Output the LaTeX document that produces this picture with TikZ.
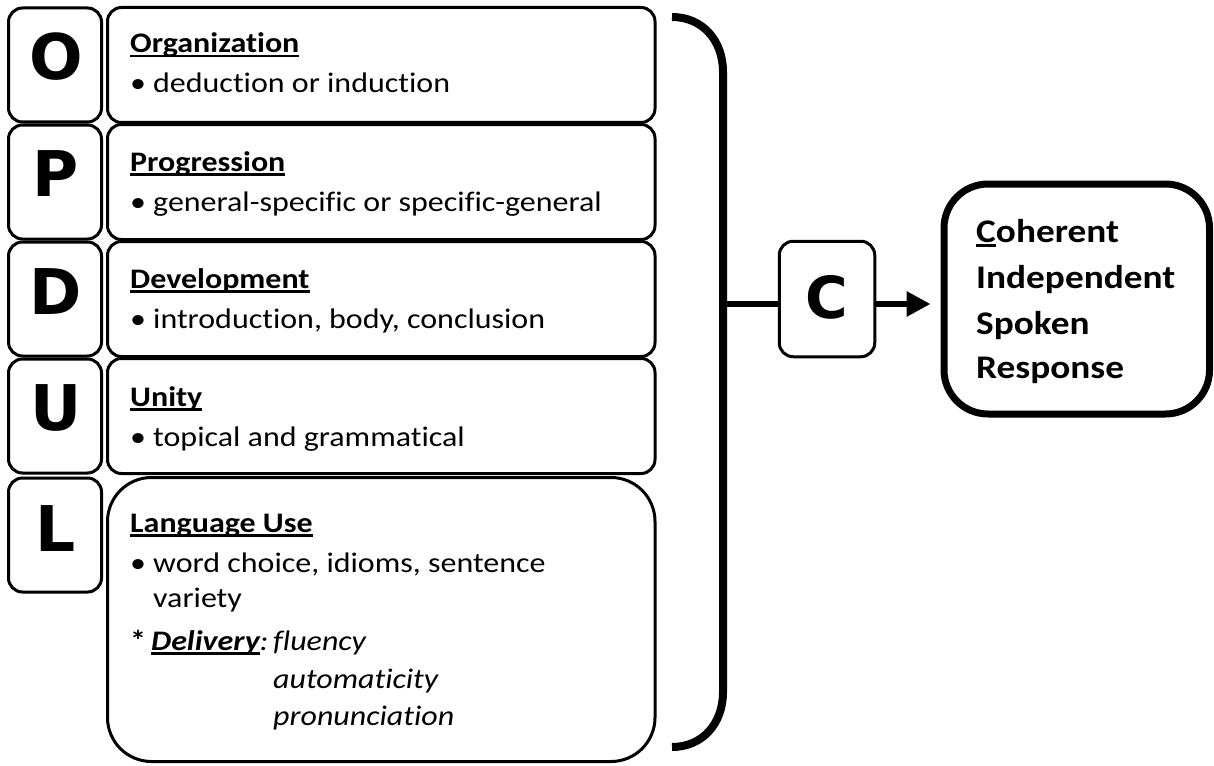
\documentclass[tikz,border=0pt]{standalone}
\usepackage{fontspec}
\setmainfont{Carlito}[FakeStretch=1.13, RawFeature={-liga}]
\newfontfamily\letfont{DejaVu Sans}
\usetikzlibrary{arrows.meta}
\newcommand\myul[1]{\setbox0\hbox{#1}\rlap{\rule[-4.5pt]{\wd0}{2.5pt}}\box0}
\begin{document}
\begin{tikzpicture}[x=1pt,y=-1pt,
  letbox/.style={draw, line width=3pt, rounded corners=14pt, minimum width=93pt, minimum height=114pt, inner sep=0pt},
  txtbox/.style={draw, line width=3pt, rounded corners=14pt, minimum width=547.5pt, minimum height=115pt, inner sep=0pt},
  letter/.style={font=\letfont\bfseries\fontsize{63}{63}\selectfont, inner sep=0pt},
  ttl/.style={anchor=base west, inner sep=0pt, font=\bfseries\fontsize{28.3}{34}\selectfont},
  itm/.style={anchor=base west, inner sep=0pt, font=\fontsize{28.3}{34}\selectfont},
  res/.style={anchor=base west, inner sep=0pt, font=\bfseries\fontsize{33}{40}\selectfont},
  bar/.style={line width=8pt},
  conn/.style={line width=6pt}
]
\useasboundingbox (0,0) rectangle (1214,765);
% letter boxes
\node[letbox] (bO) at (55,65) {};
\node[letbox] (bP) at (55,182) {};
\node[letbox] (bD) at (55,299) {};
\node[letbox] (bU) at (55,416) {};
\node[letbox] (bL) at (55,535) {};
\node[letter] (lO) at (56,57) {O};
\node[letter] (lP) at (56,174) {P};
\node[letter] (lD) at (56,292) {D};
\node[letter] (lU) at (56,408) {U};
\node[letter] (lL) at (56,529) {L};
% text boxes
\node[txtbox] (tO) at (381.25,65) {};
\node[txtbox] (tP) at (381.25,182) {};
\node[txtbox] (tD) at (381.25,299) {};
\node[txtbox] (tU) at (381.25,416) {};
\node[txtbox, minimum height=284pt, rounded corners=44pt] (tL) at (381.25,619.5) {};
% texts
\node[ttl] (hO) at (130,53) {\myul{Organization}};
\node[itm] (iO) at (130,93) {\makebox[23pt][l]{•}deduction or induction};
\node[ttl] (hP) at (130,171) {\myul{Progression}};
\node[itm] (iP) at (130,211) {\makebox[23pt][l]{•}general-specific or specific-general};
\node[ttl] (hD) at (130,288) {\myul{Development}};
\node[itm] (iD) at (130,328) {\makebox[23pt][l]{•}introduction, body, conclusion};
\node[ttl] (hU) at (130,406) {\myul{Unity}};
\node[itm] (iU) at (130,446) {\makebox[23pt][l]{•}topical and grammatical};
\node[ttl] (hL) at (130,532) {\myul{Language Use}};
\node[itm] (iL) at (130,572) {\makebox[23pt][l]{•}word choice, idioms, sentence};
\node[itm] (iL2) at (153,607) {variety};
\node[itm] (dl) at (130,650) {\textbf{*}\hspace{5pt}\textbf{\textit{\myul{Delivery}}}\textit{:}};
\node[itm] (d1) at (273,650) {\textit{fluency}};
\node[itm] (d2) at (273,688) {\textit{automaticity}};
\node[itm] (d3) at (273,725) {\textit{pronunciation}};
% bracket
\coordinate (bt) at (672,17);
\coordinate (bb) at (672,747);
\coordinate (bm) at (723,304);
\draw[bar] (bt) .. controls (702,17) and (723,40) .. (723,72) -- (723,692) .. controls (723,724) and (702,747) .. (bb);
% C box
\node[letbox, minimum width=95.5pt, minimum height=115.5pt] (cb) at (827,299) {};
\node[letter, font=\letfont\bfseries\fontsize{58}{58}\selectfont] (cl) at (827,297) {C};
\draw[conn] (bm) -- (bm -| cb.west);
% result box
\node[draw, line width=7pt, rounded corners=44pt, minimum width=265.5pt, minimum height=230pt, inner sep=0pt] (rb) at (1076.75,299) {};
\node[res] (r1) at (976,242) {\myul{C}oherent};
\node[res] (r2) at (976,288) {Independent};
\node[res] (r3) at (976,334) {Spoken};
\node[res] (r4) at (976,378) {Response};
\draw[conn, -{Triangle[length=24pt,width=24pt]}, shorten >=10pt] (bm -| cb.east) -- (bm -| rb.west);
\end{tikzpicture}
\end{document}
